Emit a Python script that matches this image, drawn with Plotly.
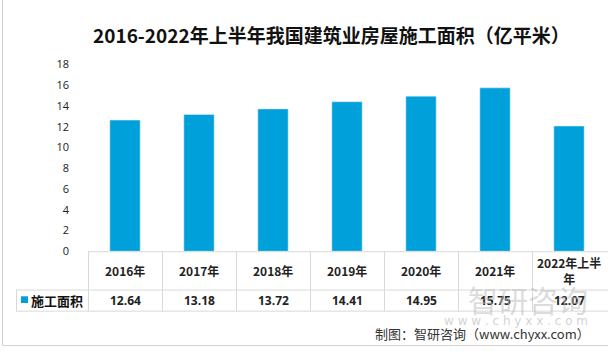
import plotly.graph_objects as go

categories = ["2016年", "2017年", "2018年", "2019年", "2020年", "2021年", "2022年上半年"]
cat_labels = ["2016年", "2017年", "2018年", "2019年", "2020年", "2021年", "2022年上半<br>年"]
values = [12.64, 13.18, 13.72, 14.41, 14.95, 15.75, 12.07]
series_name = "施工面积"
y_ticks = [0, 2, 4, 6, 8, 10, 12, 14, 16, 18]
title_text = "2016-2022年上半年我国建筑业房屋施工面积（亿平米）"
source_text = "制图：智研咨询（www.chyxx.com）"

W, H = 608, 355
BLUE = "#00A0DA"
GRID = "#D9D9D9"

def px(x):
    return x / W

def py(y):
    return 1 - y / H

x0, x1 = 88, 606
col_w = (x1 - x0) / len(categories)

fig = go.Figure()
fig.add_trace(go.Bar(x=list(range(len(categories))), y=values, marker_color=BLUE,
                     width=0.41, name=series_name, showlegend=False))

shapes = []
def line(xa, ya, xb, yb, color=GRID):
    shapes.append(dict(type="line", xref="paper", yref="paper",
                       x0=px(xa), y0=py(ya), x1=px(xb), y1=py(yb),
                       line=dict(color=color, width=1)))

# outer frame
shapes.append(dict(type="rect", xref="paper", yref="paper", x0=px(2.5), y0=py(352.5), x1=1.2, y1=1.2,
                   line=dict(color="#D0D0D0", width=1)))
# table lines
line(x0, 254.5, x1 + 2, 254.5)
line(16, 294.5, x1 + 2, 294.5)
line(16, 316.5, x1 + 2, 316.5)
line(16.5, 294.5, 16.5, 316.5)
for i in range(len(categories)):
    xb = x0 + i * col_w
    line(xb + 0.5, 254.5, xb + 0.5, 316.5)
# legend key
shapes.append(dict(type="rect", xref="paper", yref="paper", x0=px(21), x1=px(28),
                   y0=py(308), y1=py(301), fillcolor=BLUE, line=dict(width=0)))

annotations = []
for i, (lab, v) in enumerate(zip(cat_labels, values)):
    annotations.append(dict(x=i, xref="x", y=py(274), yref="paper", text=f"<b>{lab}</b>",
                            showarrow=False, font=dict(size=12, color="#222", family="Noto Sans CJK SC"),
                            xanchor="center", yanchor="middle"))
    annotations.append(dict(x=i, xref="x", y=py(305), yref="paper", text=f"<b>{v:.2f}</b>",
                            showarrow=False, font=dict(size=12, color="#222", family="Open Sans"),
                            xanchor="center", yanchor="middle"))
annotations.append(dict(x=px(29), xref="paper", y=py(305), yref="paper", text=f"<b>{series_name}</b>",
                        showarrow=False, font=dict(size=13, color="#111", family="Noto Sans CJK SC"),
                        xanchor="left", yanchor="middle"))
# watermark
annotations.append(dict(x=px(590), xref="paper", y=py(304), yref="paper", text="智研咨询",
                        showarrow=False, font=dict(size=30, color="rgba(190,190,190,0.55)", family="Noto Sans CJK SC"),
                        xanchor="right", yanchor="middle"))
annotations.append(dict(x=px(590), xref="paper", y=py(327), yref="paper", text="w w w . c h y x x . c o m",
                        showarrow=False, font=dict(size=12, color="rgba(190,190,190,0.7)", family="DejaVu Sans"),
                        xanchor="right", yanchor="middle"))
# source
annotations.append(dict(x=px(592), xref="paper", y=py(340), yref="paper", text=source_text,
                        showarrow=False, font=dict(size=13, color="#333", family="Noto Sans CJK SC"),
                        xanchor="right", yanchor="middle"))
# title
annotations.append(dict(x=px(331), xref="paper", y=py(28), yref="paper", text=f"<b>{title_text}</b>",
                        showarrow=False, font=dict(size=19, color="#111", family="Noto Sans CJK SC"),
                        xanchor="center", yanchor="middle"))

fig.update_layout(
    width=W, height=H,
    margin=dict(l=0, r=0, t=0, b=0),
    paper_bgcolor="white", plot_bgcolor="white",
    xaxis=dict(domain=[px(x0), px(x1)], range=[-0.5, len(categories) - 0.5],
               showticklabels=False, showgrid=False, zeroline=False, showline=False, ticks=""),
    yaxis=dict(domain=[py(254), py(59)], range=[0, 18], tickvals=y_ticks,
               showgrid=False, zeroline=False, showline=False, ticks="",
               tickfont=dict(size=11, color="#222", family="Open Sans"), ticklabelstandoff=18),
    shapes=shapes, annotations=annotations, bargap=0.59,
)

fig.write_html("out.html", config={"displayModeBar": False},
               post_script="document.body.style.margin='0';document.body.style.overflow='hidden';")
